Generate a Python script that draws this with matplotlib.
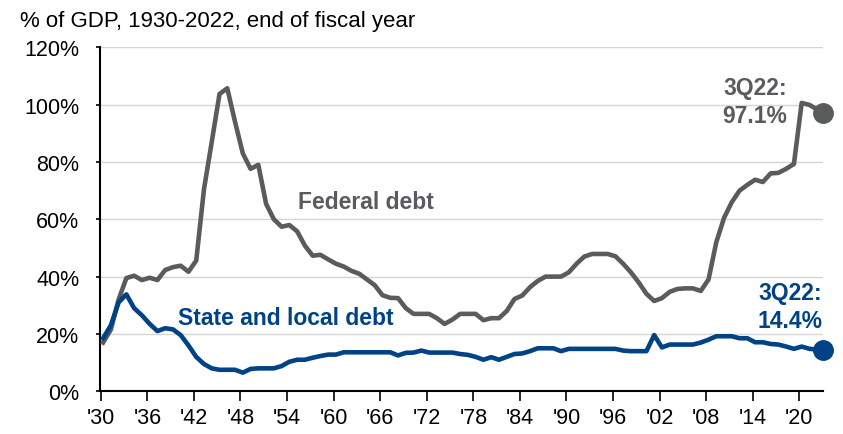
import numpy as np
import matplotlib
matplotlib.use("Agg")
import matplotlib.pyplot as plt

plt.rcParams["font.family"] = ["Liberation Sans", "DejaVu Sans"]

# ---- data: % of GDP, end of fiscal year ----
years = np.arange(1930, 2022)
federal = [17, 21.5, 32, 39.5, 40.3, 38.8, 39.6, 38.8, 42.3, 43.3,
           43.8, 41.7, 45.6, 70.5, 87, 103.7, 105.7, 94, 83, 77.6,
           79, 65.4, 60, 57.4, 58, 55.8, 50.8, 47.3, 47.6, 46,
           44.5, 43.5, 42, 41, 39, 37, 33.5, 32.6, 32.5, 29,
           27, 27, 27, 25.5, 23.5, 25, 27, 27, 27, 24.8,
           25.5, 25.5, 28, 32.2, 33.4, 36.3, 38.5, 40, 40, 40,
           41.5, 44.5, 47, 47.9, 47.9, 47.9, 47.1, 44.5, 41.5, 38,
           34, 31.5, 32.5, 34.7, 35.7, 35.9, 35.9, 35, 39, 52,
           60.5, 66, 70, 72, 73.8, 73, 76, 76.2, 77.6, 79.3,
           100.6, 99.9]
state_local = [18.5, 23, 31, 33.8, 29, 26.5, 23.5, 21, 22, 21.6,
               19.6, 16, 12, 9.5, 8, 7.5, 7.5, 7.5, 6.5, 7.8,
               8, 8, 8, 8.8, 10.3, 11, 11, 11.7, 12.3, 12.8,
               12.8, 13.6, 13.6, 13.6, 13.6, 13.6, 13.6, 13.6, 12.5, 13.4,
               13.5, 14.2, 13.5, 13.5, 13.5, 13.5, 13, 12.7, 12, 11,
               11.9, 11, 12, 13, 13.2, 14, 15, 15, 15, 14,
               14.8, 14.8, 14.8, 14.8, 14.8, 14.8, 14.8, 14.2, 14, 14,
               14, 19.6, 15.3, 16.3, 16.3, 16.3, 16.3, 17, 18, 19.2,
               19.2, 19.2, 18.5, 18.5, 17.1, 17.1, 16.5, 16.3, 15.6, 14.8,
               15.6, 14.8]
latest_x = 2022.75          # 3Q22
latest_federal = 97.1
latest_state = 14.4
tick_years = np.arange(1930, 2021, 6)
tick_labels = ["'" + str(y)[2:] for y in tick_years]

GREY, BLUE = "#5a5b5d", "#004286"
OFF = 0.3                   # points sit slightly right of the year tick
FS = 16.5

fig = plt.figure(figsize=(8.43, 4.35), dpi=100)
ax = fig.add_axes([0.1186, 0.0982, 0.8577, 0.7908])

xf = np.append(years, latest_x) + OFF
ax.plot(xf, np.append(federal, latest_federal), color=GREY, lw=3.3,
        solid_joinstyle="round", zorder=3)
ax.plot(xf, np.append(state_local, latest_state), color=BLUE, lw=3.3,
        solid_joinstyle="round", zorder=3)
ax.plot(latest_x + OFF, latest_federal, "o", color=GREY, ms=14, clip_on=False, zorder=4)
ax.plot(latest_x + OFF, latest_state, "o", color=BLUE, ms=14, clip_on=False, zorder=4)

ax.set_xlim(1929.9, 2023.05)
ax.set_ylim(0, 120)
ax.set_yticks(np.arange(0, 121, 20))
ax.set_yticklabels([f"{v}%" for v in range(0, 121, 20)])
ax.set_xticks(tick_years)
ax.set_xticklabels(tick_labels)
ax.yaxis.grid(True, color="#d4d4d4", lw=1)
ax.set_axisbelow(True)
for s in ("top", "right"):
    ax.spines[s].set_visible(False)
for s in ("left", "bottom"):
    ax.spines[s].set_color("black"); ax.spines[s].set_linewidth(1.5)
ax.tick_params(axis="y", length=3, width=1.2, labelsize=15.5, pad=12)
ax.tick_params(axis="x", length=7, width=1.2, labelsize=15.5, pad=4)

# labels
ax.text(1955.4, 63.9, "Federal debt", color=GREY, fontsize=FS, fontweight="bold",
        va="baseline")
ax.text(1940.0, 23.4, "State and local debt", color=BLUE, fontsize=FS, fontweight="bold",
        va="baseline")
ax.text(2014.3, 103.7, "3Q22:", color=GREY, fontsize=FS, fontweight="bold",
        ha="center", va="baseline")
ax.text(2014.3, 94.0, "97.1%", color=GREY, fontsize=FS, fontweight="bold",
        ha="center", va="baseline")
ax.text(2018.85, 32.2, "3Q22:", color=BLUE, fontsize=FS, fontweight="bold",
        ha="center", va="baseline")
ax.text(2018.85, 22.4, "14.4%", color=BLUE, fontsize=FS, fontweight="bold",
        ha="center", va="baseline")

fig.text(20 / 843, 1 - 27 / 435, "% of GDP, 1930-2022, end of fiscal year",
         fontsize=16, va="baseline", ha="left")

fig.savefig("out.png", dpi=100)
